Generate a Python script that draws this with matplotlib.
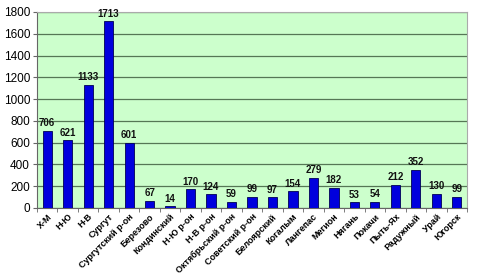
import matplotlib
matplotlib.use("Agg")
import matplotlib.pyplot as plt
import numpy as np

categories = ["Х-М", "Н-Ю", "Н-В", "Сургут", "Сургутский р-он", "Березово", "Кондинский",
              "Н-Ю р-он", "Н-В р-он", "Октябрьский р-он", "Советский р-он", "Белоярский",
              "Когалым", "Лангепас", "Мегион", "Нягань", "Покачи", "Пыть-Ях", "Радужный",
              "Урай", "Югорск"]
values = [706, 621, 1133, 1713, 601, 67, 14, 170, 124, 59, 99, 97, 154, 279, 182, 53, 54,
          212, 352, 130, 99]
yticks = [0, 200, 400, 600, 800, 1000, 1200, 1400, 1600, 1800]

plt.rcParams['font.family'] = ['Liberation Sans', 'DejaVu Sans']

fig = plt.figure(figsize=(4.8, 2.77), dpi=100)
ax = fig.add_axes([37/480, 1-208/277, 430/480, 196/277])
ax.set_facecolor("#ccffcc")
x = np.arange(len(categories))
ax.bar(x, values, width=0.45, color="#0000dd", edgecolor="#000055", linewidth=0.6, zorder=3)
for xi, v in zip(x, values):
    ax.text(xi, v + 25, str(v), ha="center", va="bottom", fontsize=7,
            fontweight="bold", color="#111111", zorder=4)
ax.set_xlim(-0.5, len(categories) - 0.5)
ax.set_ylim(0, 1800)
ax.set_yticks(yticks)
ax.set_yticklabels([str(t) for t in yticks], fontsize=8.5)
ax.yaxis.grid(True, color="#557755", linewidth=0.9, zorder=1)
ax.set_xticks(x)
ax.set_xticklabels(categories, rotation=45, ha="right", rotation_mode="anchor",
                   fontsize=6.5, fontweight="bold")
ax.tick_params(axis="x", which="major", length=0, pad=3)
ax.set_xticks(np.arange(-0.5, len(categories), 1), minor=True)
ax.tick_params(axis="x", which="minor", length=3, color="#666666")
ax.tick_params(axis="y", length=3, color="#666666", pad=2)
for s in ["top", "right"]:
    ax.spines[s].set_color("#aaaaaa")
for s in ["left", "bottom"]:
    ax.spines[s].set_color("#666666")
fig.savefig("out.png", dpi=100)
